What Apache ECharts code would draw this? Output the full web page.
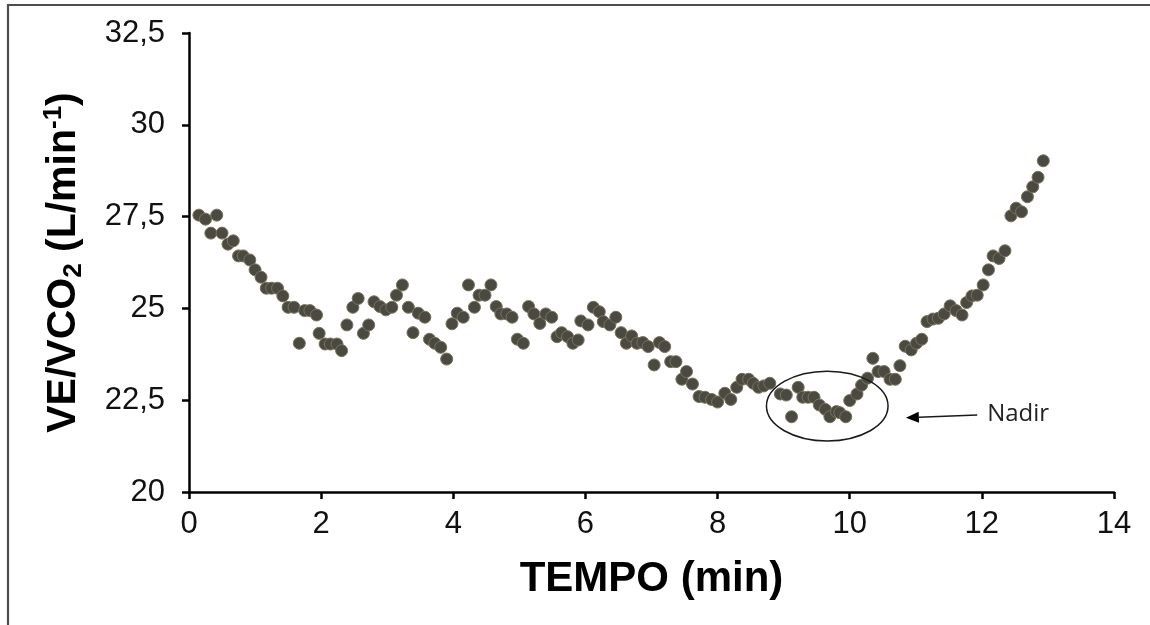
<!DOCTYPE html>
<html>
<head>
<meta charset="utf-8">
<script src="https://cdn.jsdelivr.net/npm/echarts@6/dist/echarts.min.js"></script>
<style>
html,body{margin:0;padding:0;background:#fff;}
#chart{width:1150px;height:625px;}
</style>
</head>
<body>
<div id="chart"></div>
<script>
// Time (min)
const tempo = [0.15,0.25,0.33,0.42,0.50,0.59,0.67,0.75,0.82,0.92,1.00,1.09,1.17,1.25,1.34,1.42,1.50,1.59,1.67,1.75,1.83,1.93,1.97,2.06,2.14,2.24,2.31,2.39,2.48,2.56,2.64,2.72,2.80,2.89,2.98,3.07,3.14,3.23,3.32,3.39,3.47,3.57,3.64,3.72,3.81,3.90,3.98,4.06,4.15,4.23,4.32,4.39,4.48,4.57,4.65,4.72,4.81,4.89,4.97,5.06,5.14,5.22,5.31,5.40,5.49,5.57,5.64,5.73,5.81,5.89,5.93,6.04,6.12,6.21,6.27,6.37,6.46,6.54,6.62,6.70,6.78,6.87,6.95,7.04,7.12,7.20,7.29,7.37,7.46,7.53,7.62,7.72,7.81,7.91,8.00,8.11,8.20,8.29,8.37,8.47,8.54,8.62,8.70,8.79,8.95,9.04,9.12,9.22,9.29,9.37,9.46,9.54,9.63,9.70,9.80,9.85,9.94,10.00,10.11,10.18,10.27,10.35,10.43,10.52,10.61,10.69,10.76,10.84,10.93,11.01,11.09,11.17,11.26,11.34,11.43,11.52,11.61,11.70,11.77,11.85,11.93,12.02,12.10,12.17,12.26,12.35,12.44,12.52,12.60,12.69,12.77,12.85,12.93];
// VE/VCO2 values
const veVco2 = [27.54,27.43,27.05,27.54,27.05,26.75,26.84,26.43,26.43,26.32,26.05,25.85,25.55,25.55,25.55,25.34,25.03,25.03,24.05,24.94,24.94,24.82,24.32,24.03,24.03,24.03,23.85,24.55,25.03,25.27,24.32,24.55,25.18,25.05,24.96,25.03,25.36,25.64,25.03,24.34,24.87,24.76,24.16,24.05,23.94,23.62,24.58,24.87,24.76,25.64,25.03,25.36,25.36,25.64,25.05,24.85,24.85,24.76,24.16,24.05,25.05,24.85,24.59,24.85,24.76,24.23,24.34,24.23,24.05,24.14,24.66,24.55,25.03,24.91,24.64,24.55,24.76,24.34,24.05,24.25,24.05,24.07,23.96,23.46,24.07,23.96,23.55,23.55,23.07,23.28,22.94,22.60,22.58,22.52,22.45,22.69,22.52,22.85,23.07,23.07,22.96,22.85,22.89,22.96,22.67,22.64,22.05,22.85,22.58,22.58,22.58,22.37,22.25,22.05,22.19,22.16,22.05,22.49,22.67,22.91,23.10,23.64,23.28,23.28,23.07,23.07,23.44,23.97,23.87,24.05,24.16,24.64,24.71,24.73,24.85,25.07,24.94,24.82,25.16,25.34,25.36,25.64,26.05,26.43,26.36,26.57,27.52,27.73,27.63,28.04,28.31,28.57,29.02];

const xTicks = [0,2,4,6,8,10,12,14];
const yTicks = [20,22.5,25,27.5,30,32.5];
const xTitle = 'TEMPO (min)';
const annotationText = 'Nadir';
// annotation positions in data units
const nadirCenter = [9.66, 22.34];
const nadirRadius = [0.92, 0.95];
const arrowFrom = [11.93, 22.10];
const arrowTo = [10.85, 22.02];
const labelAt = [12.08, 22.12];

const chart = echarts.init(document.getElementById('chart'));
const FONT = '"Liberation Sans", Arial, sans-serif';

chart.setOption({
  animation: false,
  backgroundColor: '#fff',
  grid: {left: 189, right: 36, top: 33, bottom: 133, containLabel: false},
  xAxis: {
    type: 'value', min: xTicks[0], max: xTicks[xTicks.length-1], interval: 2,
    splitLine: {show: false},
    axisLine: {lineStyle: {color: '#000', width: 2.5}},
    axisTick: {show: true, length: 7, lineStyle: {color: '#000', width: 2.5}},
    axisLabel: {color: '#111', fontSize: 31, fontFamily: FONT, margin: 17},
    name: xTitle, nameLocation: 'middle', nameGap: 66,
    nameTextStyle: {color: '#000', fontSize: 42, fontWeight: 'bold', fontFamily: FONT}
  },
  yAxis: {
    type: 'value', min: yTicks[0], max: yTicks[yTicks.length-1], interval: 2.5,
    splitLine: {show: false},
    axisLine: {show: true, lineStyle: {color: '#000', width: 2.5}},
    axisTick: {show: true, length: 7, lineStyle: {color: '#000', width: 2.5}},
    axisLabel: {color: '#111', fontSize: 31, fontFamily: FONT, margin: 24,
      formatter: v => String(v).replace('.', ',')},
    name: '{a|VE/VCO}{sub|2}{a| (L/min}{sup|-1}{a|)}',
    nameLocation: 'middle', nameGap: 102, nameRotate: 90,
    nameTextStyle: {
      color: '#000', fontFamily: FONT, fontWeight: 'bold',
      rich: {
        a: {fontSize: 41, fontWeight: 'bold', fontFamily: FONT, color: '#000', lineHeight: 46, verticalAlign: 'middle'},
        sub: {fontSize: 26, fontWeight: 'bold', fontFamily: FONT, color: '#000', lineHeight: 24, verticalAlign: 'bottom'},
        sup: {fontSize: 26, fontWeight: 'bold', fontFamily: FONT, color: '#000', lineHeight: 24, verticalAlign: 'top'}
      }
    }
  },
  series: [{
    type: 'scatter',
    data: tempo.map((t, i) => [t, veVco2[i]]),
    symbol: 'circle', symbolSize: 12,
    itemStyle: {color: '#4b4a42', borderColor: '#77735a', borderWidth: 1, opacity: 1}
  }]
});

function px(p){ return chart.convertToPixel({gridIndex: 0}, p); }
const c = px(nadirCenter);
const cr = px([nadirCenter[0] + nadirRadius[0], nadirCenter[1] + nadirRadius[1]]);
const a0 = px(arrowFrom), a1 = px(arrowTo), lt = px(labelAt);
const ang = Math.atan2(a1[1]-a0[1], a1[0]-a0[0]);
const hl = 13, hw = 5.5;
const tip = a1;
const base = [tip[0] - hl*Math.cos(ang), tip[1] - hl*Math.sin(ang)];
const nx = -Math.sin(ang), ny = Math.cos(ang);

chart.setOption({
  graphic: [
    {type: 'rect', silent: true, z: 100,
     shape: {x: 8, y: 5, width: 1400, height: 900},
     style: {fill: 'none', stroke: '#4d4d4d', lineWidth: 2.2}},
    {type: 'ellipse', silent: true, z: 100,
     shape: {cx: c[0], cy: c[1], rx: Math.abs(cr[0]-c[0]), ry: Math.abs(c[1]-cr[1])},
     style: {fill: 'none', stroke: '#1a1a1a', lineWidth: 1.5}},
    {type: 'line', silent: true, z: 100,
     shape: {x1: a0[0], y1: a0[1], x2: base[0], y2: base[1]},
     style: {stroke: '#1a1a1a', lineWidth: 1.5}},
    {type: 'polygon', silent: true, z: 100,
     shape: {points: [tip, [base[0]+nx*hw, base[1]+ny*hw], [base[0]-nx*hw, base[1]-ny*hw]]},
     style: {fill: '#000'}},
    {type: 'text', silent: true, z: 100, x: lt[0], y: lt[1],
     style: {text: annotationText, fontSize: 24, fontFamily: '"Open Sans", sans-serif', fill: '#222', verticalAlign: 'middle', align: 'left'}}
  ]
});
</script>
</body>
</html>
